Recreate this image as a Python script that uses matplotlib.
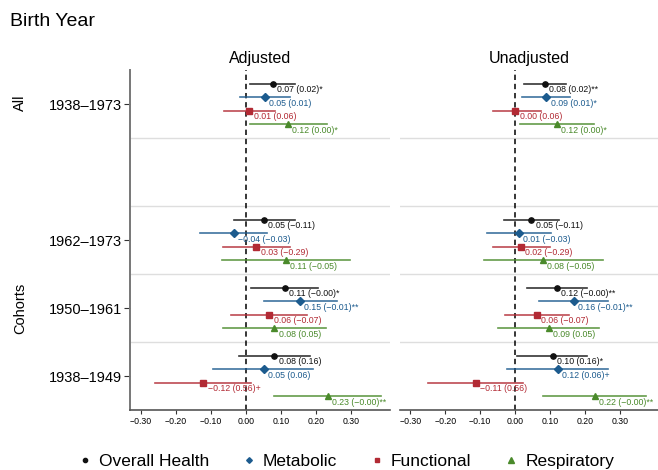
import matplotlib
matplotlib.use("Agg")
import matplotlib.pyplot as plt
from matplotlib.lines import Line2D

plt.rcParams["font.family"] = ["Liberation Sans", "DejaVu Sans"]

M = "\u2212"

# rows, top to bottom
groups = ["1938\u20131973", "1962\u20131973", "1950\u20131961", "1938\u20131949"]
series = ["Overall Health", "Metabolic", "Functional", "Respiratory"]
colors = ["#111111", "#1c5b8e", "#b22a34", "#4a8a2b"]
markers = ["o", "D", "s", "^"]

# Adjusted
adj_est = {
    "Overall Health": [0.076, 0.052, 0.110, 0.081],
    "Metabolic": [0.054, -0.035, 0.154, 0.050],
    "Functional": [0.010, 0.030, 0.067, -0.121],
    "Respiratory": [0.119, 0.113, 0.081, 0.233],
}
adj_lo = {
    "Overall Health": [0.012, -0.033, 0.014, -0.019],
    "Metabolic": [-0.016, -0.131, 0.050, -0.093],
    "Functional": [-0.062, -0.064, -0.043, -0.259],
    "Respiratory": [0.012, -0.069, -0.065, 0.081],
}
adj_hi = {
    "Overall Health": [0.140, 0.140, 0.205, 0.181],
    "Metabolic": [0.126, 0.060, 0.260, 0.192],
    "Functional": [0.083, 0.125, 0.174, 0.014],
    "Respiratory": [0.231, 0.296, 0.228, 0.384],
}
adj_lab = {
    "Overall Health": ["0.07 (0.02)*", f"0.05 ({M}0.11)", f"0.11 ({M}0.00)*", "0.08 (0.16)"],
    "Metabolic": ["0.05 (0.01)", f"{M}0.04 ({M}0.03)", f"0.15 ({M}0.01)**", "0.05 (0.06)"],
    "Functional": ["0.01 (0.06)", f"0.03 ({M}0.29)", f"0.06 ({M}0.07)", f"{M}0.12 (0.56)+"],
    "Respiratory": ["0.12 (0.00)*", f"0.11 ({M}0.05)", "0.08 (0.05)", f"0.23 ({M}0.00)**"],
}

# Unadjusted
una_est = {
    "Overall Health": [0.085, 0.047, 0.119, 0.108],
    "Metabolic": [0.090, 0.011, 0.168, 0.122],
    "Functional": [0.001, 0.017, 0.063, -0.113],
    "Respiratory": [0.119, 0.080, 0.096, 0.228],
}
una_lo = {
    "Overall Health": [0.026, -0.032, 0.033, 0.007],
    "Metabolic": [0.020, -0.081, 0.068, -0.022],
    "Functional": [-0.064, -0.064, -0.028, -0.250],
    "Respiratory": [0.014, -0.089, -0.050, 0.080],
}
una_hi = {
    "Overall Health": [0.145, 0.125, 0.206, 0.207],
    "Metabolic": [0.159, 0.103, 0.267, 0.267],
    "Functional": [0.073, 0.099, 0.154, 0.024],
    "Respiratory": [0.226, 0.251, 0.242, 0.375],
}
una_lab = {
    "Overall Health": ["0.08 (0.02)**", f"0.05 ({M}0.11)", f"0.12 ({M}0.00)**", "0.10 (0.16)*"],
    "Metabolic": ["0.09 (0.01)*", f"0.01 ({M}0.03)", f"0.16 ({M}0.01)**", "0.12 (0.06)+"],
    "Functional": ["0.00 (0.06)", f"0.02 ({M}0.29)", f"0.06 ({M}0.07)", f"{M}0.11 (0.56)"],
    "Respiratory": ["0.12 (0.00)*", f"0.08 ({M}0.05)", "0.09 (0.05)", f"0.22 ({M}0.00)**"],
}

xticks = [-0.3, -0.2, -0.1, 0.0, 0.1, 0.2, 0.3]

ypos = [5, 3, 2, 1]
offsets = [0.3, 0.1, -0.1, -0.3]
msizes = [3.8, 3.6, 4.4, 4.8]

fig = plt.figure(figsize=(6.58, 4.70), dpi=100, facecolor="white")
ax1 = fig.add_axes([130 / 658, 60 / 470, 260 / 658, 340 / 470])
ax2 = fig.add_axes([400 / 658, 60 / 470, 258 / 658, 340 / 470])


def draw_panel(ax, est, lo, hi, lab, title):
    for y in [1.5, 2.5, 3.5, 4.5]:
        ax.axhline(y, color="#dedede", lw=1.0, zorder=0)
    ax.axvline(0, color="black", lw=1.1, ls=(0, (3.5, 2.5)), zorder=1)
    for s, c, m, off, ms in zip(series, colors, markers, offsets, msizes):
        for i, yp in enumerate(ypos):
            yy = yp + off
            ax.plot([lo[s][i], hi[s][i]], [yy, yy], color=c, lw=1.2, alpha=0.85, zorder=2)
            ax.plot(est[s][i], yy, marker=m, color=c, ms=ms, mec=c, ls="none", zorder=3)
            ax.annotate(lab[s][i], (est[s][i], yy), xytext=(3, -4.3), textcoords="offset points",
                        fontsize=6.3, color=c, ha="left", va="center", zorder=4)
    ax.set_xlim(-0.33, 0.41)
    ax.set_ylim(0.5, 5.5)
    ax.set_xticks(xticks)
    ax.set_xticklabels([f"{t:.2f}".replace("-", M) for t in xticks], fontsize=6.3)
    ax.tick_params(axis="x", length=3, width=0.8, color="#333333", pad=2)
    ax.set_title(title, fontsize=11.5, pad=5)
    for sp in ["top", "right"]:
        ax.spines[sp].set_visible(False)
    ax.spines["bottom"].set_color("#555555")
    ax.spines["bottom"].set_linewidth(1.2)
    ax.spines["left"].set_color("#777777")
    ax.spines["left"].set_linewidth(1.4)


draw_panel(ax1, adj_est, adj_lo, adj_hi, adj_lab, "Adjusted")
draw_panel(ax2, una_est, una_lo, una_hi, una_lab, "Unadjusted")

ax1.set_yticks(ypos)
ax1.set_yticklabels(groups, fontsize=10.5)
ax1.tick_params(axis="y", length=4, width=0.8, color="#333333", pad=2)
ax2.set_yticks([])
ax2.spines["left"].set_visible(False)

fig.text(10 / 658, 1 - 22 / 470, "Birth Year", fontsize=14, ha="left", va="center")
fig.text(20 / 658, 1 - 103 / 470, "All", fontsize=10.5, rotation=90, ha="center", va="center")
fig.text(20 / 658, 1 - 308 / 470, "Cohorts", fontsize=10.5, rotation=90, ha="center", va="center")

handles = [Line2D([], [], marker=m, color=c, ls="none", ms=ms * 0.8)
           for m, c, ms in zip(markers, colors, msizes)]
fig.legend(handles, series, loc="center", bbox_to_anchor=(346 / 658, 1 - 461 / 470),
           ncol=4, frameon=False, fontsize=12.5, handlelength=0.8, handletextpad=0.4,
           columnspacing=1.9, borderaxespad=0)

fig.savefig("out.png", dpi=100, facecolor="white")
